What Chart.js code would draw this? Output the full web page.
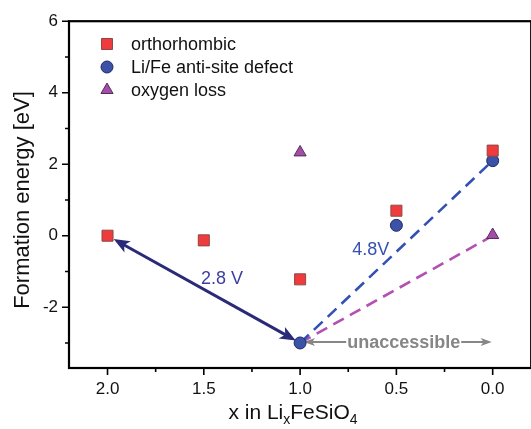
<!DOCTYPE html>
<html>
<head>
<meta charset="utf-8">
<script src="https://cdn.jsdelivr.net/npm/chart.js@4.4.1/dist/chart.umd.min.js"></script>
<style>
  html, body { margin: 0; padding: 0; overflow: hidden; background: #fff; }
  #wrap { width: 540px; height: 429px; }
</style>
</head>
<body>
<div id="wrap"><canvas id="chart" width="540" height="429"></canvas></div>
<script>
// values
const orthoX = [2.0, 1.5, 1.0, 0.5, 0.0];
const orthoY = [0.0, -0.13, -1.22, 0.70, 2.38];
const antiX = [1.0, 0.5, 0.0];
const antiY = [-3.0, 0.29, 2.10];
const oxyX = [1.0, 0.0];
const oxyY = [2.33, 0.02];

// guide lines (data coords)
const arrow28 = [[2.0, 0.0], [1.0, -3.0]];
const dash48 = [[1.0, -3.0], [0.0, 2.1]];
const dashOxy = [[1.0, -3.0], [0.0, 0.0]];
const unaccArrow = [[0.98, -2.97], [0.005, -2.97]];

// annotation texts and where they sit (data coords)
const label28 = { text: '2.8 V', x: 1.406, y: -1.2 };
const label48 = { text: '4.8V', x: 0.633, y: -0.4 };
const labelUnacc = { text: 'unaccessible', x: 0.462, y: -2.97 };

const xTicks = [0, 0.5, 1.0, 1.5, 2.0];
const xMinor = [0.25, 0.75, 1.25, 1.75];
const yTicks = [-2, 0, 2, 4, 6];
const yMinor = [-3, -1, 1, 3, 5];

const legendNames = ['orthorhombic', 'Li/Fe anti-site defect', 'oxygen loss'];

const FONT = 'Liberation Sans, Arial, sans-serif';
const toPts = (xs, ys) => xs.map((x, i) => ({ x: x, y: ys[i] }));
const pairPts = arr => arr.map(p => ({ x: p[0], y: p[1] }));

function arrowHead(ctx, x1, y1, x2, y2, len, half){
  // filled head with tip at (x2,y2) pointing away from (x1,y1)
  const a = Math.atan2(y2 - y1, x2 - x1);
  ctx.beginPath();
  ctx.moveTo(x2, y2);
  ctx.lineTo(x2 - len*Math.cos(a) + half*Math.sin(a), y2 - len*Math.sin(a) - half*Math.cos(a));
  ctx.lineTo(x2 - len*Math.cos(a)*0.75, y2 - len*Math.sin(a)*0.75);
  ctx.lineTo(x2 - len*Math.cos(a) - half*Math.sin(a), y2 - len*Math.sin(a) + half*Math.cos(a));
  ctx.closePath();
  ctx.fill();
}

function legendMarker(ctx, ds, x, y){
  ctx.save();
  ctx.fillStyle = ds.backgroundColor; ctx.strokeStyle = ds.borderColor; ctx.lineWidth = 1;
  Chart.helpers.drawPoint(ctx, { pointStyle: ds.pointStyle, radius: ds.pointRadius, borderWidth: 1 }, x, y);
  ctx.restore();
}

const decor = {
  id: 'decor',
  beforeDatasetsDraw(chart){
    const ctx = chart.ctx, xs = chart.scales.x, ys = chart.scales.y;
    const px = v => xs.getPixelForValue(v), py = v => ys.getPixelForValue(v);
    ctx.save();
    // 2.8 V double arrow
    let x1 = px(arrow28[0][0]), y1 = py(arrow28[0][1]);
    let x2 = px(arrow28[1][0]), y2 = py(arrow28[1][1]);
    const d = Math.hypot(x2 - x1, y2 - y1), ux = (x2 - x1)/d, uy = (y2 - y1)/d;
    const sx = x1 + ux*7, sy = y1 + uy*7, ex = x2 - ux*5, ey = y2 - uy*5;
    ctx.strokeStyle = '#2b2a78'; ctx.fillStyle = '#2b2a78'; ctx.lineWidth = 3;
    ctx.beginPath();
    ctx.moveTo(sx + ux*10, sy + uy*10); ctx.lineTo(ex - ux*10, ey - uy*10); ctx.stroke();
    arrowHead(ctx, ex, ey, sx, sy, 16, 6.5);
    arrowHead(ctx, sx, sy, ex, ey, 16, 6.5);

    // unaccessible arrows
    ctx.font = 'bold 18px ' + FONT;
    const tw = ctx.measureText(labelUnacc.text).width;
    const cx = px(labelUnacc.x), cy = py(labelUnacc.y);
    const lx = px(unaccArrow[0][0]), rx = px(unaccArrow[1][0]);
    ctx.strokeStyle = '#868686'; ctx.fillStyle = '#868686'; ctx.lineWidth = 2;
    ctx.beginPath();
    ctx.moveTo(cx - tw/2 - 1, cy); ctx.lineTo(lx + 8, cy);
    ctx.moveTo(cx + tw/2 + 1, cy); ctx.lineTo(rx - 8, cy);
    ctx.stroke();
    arrowHead(ctx, lx + 20, cy, lx, cy, 11, 4);
    arrowHead(ctx, rx - 20, cy, rx, cy, 11, 4);
    ctx.textAlign = 'center'; ctx.textBaseline = 'middle';
    ctx.fillText(labelUnacc.text, cx, cy + 1);
    ctx.restore();
  },
  afterDatasetsDraw(chart){
    const ctx = chart.ctx, xs = chart.scales.x, ys = chart.scales.y, a = chart.chartArea;
    const px = v => xs.getPixelForValue(v), py = v => ys.getPixelForValue(v);
    ctx.save();
    // text labels
    ctx.font = '18px ' + FONT; ctx.textAlign = 'center'; ctx.textBaseline = 'middle';
    ctx.fillStyle = '#3b3f9e';
    ctx.fillText(label28.text, px(label28.x), py(label28.y));
    ctx.fillStyle = '#3552b0';
    ctx.fillText(label48.text, px(label48.x), py(label48.y));

    // frame
    ctx.strokeStyle = '#000'; ctx.lineWidth = 2.2;
    ctx.strokeRect(a.left, a.top, a.right - a.left, a.bottom - a.top);
    // ticks, outward
    ctx.lineWidth = 1.6;
    ctx.beginPath();
    xTicks.forEach(v => { ctx.moveTo(px(v), a.bottom); ctx.lineTo(px(v), a.bottom + 7); });
    xMinor.forEach(v => { ctx.moveTo(px(v), a.bottom); ctx.lineTo(px(v), a.bottom + 4); });
    yTicks.forEach(v => { ctx.moveTo(a.left, py(v)); ctx.lineTo(a.left - 7, py(v)); });
    yMinor.forEach(v => { ctx.moveTo(a.left, py(v)); ctx.lineTo(a.left - 4, py(v)); });
    ctx.stroke();

    // legend
    const rowsY = [44, 67, 90];
    [0, 1, 2].forEach(i => legendMarker(ctx, chart.data.datasets[i], 107, rowsY[i]));
    ctx.textAlign = 'left'; ctx.fillStyle = '#111'; ctx.font = '18px ' + FONT;
    legendNames.forEach((n, i) => ctx.fillText(n, 131, rowsY[i] + 1));

    // axis titles
    ctx.font = '22px ' + FONT; ctx.fillStyle = '#111';
    ctx.save();
    ctx.translate(23, 200); ctx.rotate(-Math.PI/2);
    ctx.textAlign = 'center'; ctx.fillText('Formation energy [eV]', 0, 0);
    ctx.restore();
    const parts = [['x in Li', 21, 0], ['x', 14, 5], ['FeSiO', 21, 0], ['4', 14, 5]];
    let total = 0;
    parts.forEach(p => { ctx.font = p[1] + 'px ' + FONT; total += ctx.measureText(p[0]).width; });
    let tx = 293 - total/2;
    ctx.textAlign = 'left'; ctx.textBaseline = 'alphabetic';
    parts.forEach(p => {
      ctx.font = p[1] + 'px ' + FONT;
      ctx.fillText(p[0], tx, 419 + p[2]);
      tx += ctx.measureText(p[0]).width;
    });
    ctx.restore();
  }
};

new Chart(document.getElementById('chart'), {
  type: 'scatter',
  data: {
    datasets: [
      { label: 'orthorhombic', data: toPts(orthoX, orthoY), pointStyle: 'rect', pointRadius: 7.8,
        backgroundColor: '#ef3b3b', borderColor: '#8c4848', borderWidth: 1, order: 1 },
      { label: 'Li/Fe anti-site defect', data: toPts(antiX, antiY), pointStyle: 'circle', pointRadius: 6,
        backgroundColor: '#3c52a6', borderColor: '#1f2a66', borderWidth: 1, order: 1 },
      { label: 'oxygen loss', data: toPts(oxyX, oxyY), pointStyle: 'triangle', pointRadius: 7,
        backgroundColor: '#a24ea6', borderColor: '#5a2a5e', borderWidth: 1, order: 1 },
      { type: 'line', data: pairPts(dash48), borderColor: '#3351b5', borderWidth: 2.6,
        borderDash: [12, 7], pointRadius: 0, fill: false, order: 5 },
      { type: 'line', data: pairPts(dashOxy), borderColor: '#b350b3', borderWidth: 2.6,
        borderDash: [12, 7], pointRadius: 0, fill: false, order: 5 }
    ]
  },
  options: {
    responsive: false,
    animation: false,
    layout: { padding: { top: 16, right: 7, left: 0, bottom: 0 } },
    plugins: { legend: { display: false }, tooltip: { enabled: false } },
    scales: {
      x: {
        type: 'linear', reverse: true, min: -0.2, max: 2.2,
        grid: { display: false, drawTicks: false }, border: { display: false },
        afterBuildTicks: s => { s.ticks = xTicks.map(v => ({ value: v })); },
        afterFit: s => { s.height = 61; },
        ticks: { padding: 11, color: '#111', font: { family: FONT, size: 17 },
          callback: v => Number(v).toFixed(1), maxRotation: 0 }
      },
      y: {
        type: 'linear', min: -3.7, max: 6,
        grid: { display: false, drawTicks: false }, border: { display: false },
        afterBuildTicks: s => { s.ticks = yTicks.map(v => ({ value: v })); },
        afterFit: s => { s.width = 69; },
        ticks: { padding: 11, color: '#111', font: { family: FONT, size: 17 } }
      }
    }
  },
  plugins: [decor]
});
</script>
</body>
</html>
